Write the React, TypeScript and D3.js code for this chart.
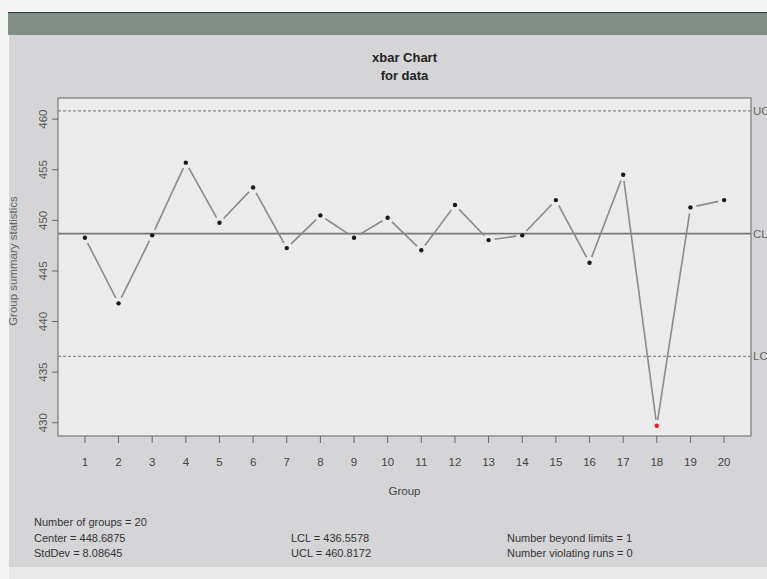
import React from "react";
import * as d3 from "d3";

const groups = d3.range(1, 21);
const groupMeans = [
  448.28, 441.8, 448.52, 455.7, 449.76, 453.24, 447.26, 450.49, 448.28, 450.26,
  447.04, 451.51, 448.05, 448.52, 452.0, 445.81, 454.5, 429.7, 451.28, 452.0,
];
const center = 448.6875;
const lcl = 436.5578;
const ucl = 460.8172;
const yTicks = [430, 435, 440, 445, 450, 455, 460];
const statsCol1 = ["Number of groups = 20", "Center = 448.6875", "StdDev = 8.08645"];
const statsCol2 = ["", "LCL = 436.5578", "UCL = 460.8172"];
const statsCol3 = ["", "Number beyond limits = 1", "Number violating runs = 0"];
const limitLabels = [
  { name: "UCL", value: ucl },
  { name: "CL", value: center },
  { name: "LCL", value: lcl },
];

const W = 767;
const H = 579;
const plot = { left: 58, right: 751, top: 98, bottom: 436 };
const FONT = "'Liberation Sans Narrow', 'Liberation Sans', Arial, sans-serif";

export default function App() {
  const x = d3.scaleLinear().domain([0.2, 20.8]).range([plot.left, plot.right]);
  const y = d3.scaleLinear().domain([428.69, 462.09]).range([plot.bottom, plot.top]);
  const pts = groupMeans.map((v, i) => [x(groups[i]), y(v)] as [number, number]);
  const gap = 6;
  const segs = pts.slice(1).map((p, i) => {
    const a = pts[i];
    const dx = p[0] - a[0];
    const dy = p[1] - a[1];
    const len = Math.hypot(dx, dy);
    const ux = dx / len;
    const uy = dy / len;
    return [a[0] + ux * gap, a[1] + uy * gap, p[0] - ux * gap, p[1] - uy * gap];
  });
  const cx = (plot.left + plot.right) / 2;
  const cy = (plot.top + plot.bottom) / 2;
  const outOfControl = (v: number) => v < lcl || v > ucl;
  return (
    <svg
      width={W}
      height={H}
      style={{ position: "absolute", left: 0, top: 0, fontFamily: FONT }}
    >
      <rect x={0} y={0} width={W} height={H} fill="#f4f4f4" />
      <rect x={9} y={35} width={W - 9} height={532} fill="#d5d5d7" />
      <rect x={9} y={567} width={W - 9} height={12} fill="#e8e8e8" />
      <rect x={8} y={12} width={W - 8} height={23} fill="#7f8d84" />
      <line x1={8} x2={W} y1={12.5} y2={12.5} stroke="#2e3a33" strokeWidth={1} />

      <text x={cx} y={62} textAnchor="middle" fontSize={13} fontWeight="bold" fill="#222">
        xbar Chart
      </text>
      <text x={cx} y={80} textAnchor="middle" fontSize={13} fontWeight="bold" fill="#222">
        for data
      </text>

      <rect
        x={plot.left}
        y={plot.top}
        width={plot.right - plot.left}
        height={plot.bottom - plot.top}
        fill="#ebebeb"
        stroke="#7a7a7a"
        strokeWidth={1.2}
      />

      {yTicks.map((t) => (
        <g key={t}>
          <line x1={plot.left - 6} x2={plot.left} y1={y(t)} y2={y(t)} stroke="#666" />
          <text
            transform={`translate(${plot.left - 11},${y(t)}) rotate(-90)`}
            textAnchor="middle"
            fontSize={11.5}
            fill="#555"
          >
            {t}
          </text>
        </g>
      ))}
      <text
        transform={`translate(17,${cy - 6}) rotate(-90)`}
        textAnchor="middle"
        fontSize={11.5}
        fill="#666"
      >
        Group summary statistics
      </text>

      {groups.map((g) => (
        <g key={g}>
          <line x1={x(g)} x2={x(g)} y1={plot.bottom} y2={plot.bottom + 7} stroke="#666" />
          <text x={x(g)} y={466} textAnchor="middle" fontSize={11.5} fill="#444">
            {g}
          </text>
        </g>
      ))}
      <text x={cx} y={495} textAnchor="middle" fontSize={11.5} fill="#444">
        Group
      </text>

      <line x1={plot.left} x2={plot.right} y1={y(ucl)} y2={y(ucl)} stroke="#888" strokeWidth={1.2} strokeDasharray="3,2" />
      <line x1={plot.left} x2={plot.right} y1={y(lcl)} y2={y(lcl)} stroke="#888" strokeWidth={1.2} strokeDasharray="3,2" />
      <line x1={plot.left} x2={plot.right} y1={y(center)} y2={y(center)} stroke="#777" strokeWidth={1.6} />

      {limitLabels.map((l) => (
        <text key={l.name} x={plot.right + 2} y={y(l.value) + 4} fontSize={11.5} fill="#666">
          {l.name}
        </text>
      ))}

      {segs.map((s, i) => (
        <line key={i} x1={s[0]} y1={s[1]} x2={s[2]} y2={s[3]} stroke="#8a8a8a" strokeWidth={1.6} />
      ))}
      {groupMeans.map((v, i) => (
        <circle
          key={i}
          cx={pts[i][0]}
          cy={pts[i][1]}
          r={2.2}
          fill={outOfControl(v) ? "#e8202a" : "#1a1a1a"}
        />
      ))}

      {statsCol1.map((s, i) => (
        <text key={"a" + i} x={34} y={526 + i * 15.5} fontSize={11} fill="#333">
          {s}
        </text>
      ))}
      {statsCol2.map((s, i) => (
        <text key={"b" + i} x={291} y={526 + i * 15.5} fontSize={11} fill="#333">
          {s}
        </text>
      ))}
      {statsCol3.map((s, i) => (
        <text key={"c" + i} x={507} y={526 + i * 15.5} fontSize={11} fill="#333">
          {s}
        </text>
      ))}
    </svg>
  );
}
